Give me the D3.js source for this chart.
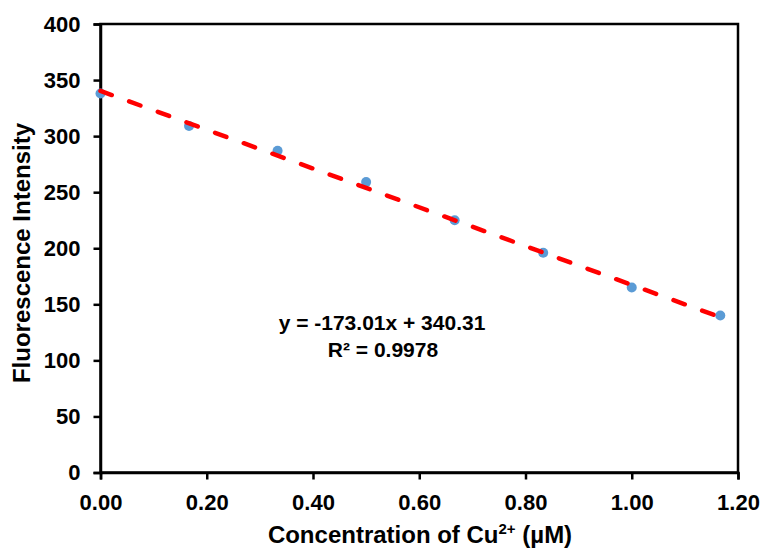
<!DOCTYPE html>
<html>
<head>
<meta charset="utf-8">
<script src="https://cdn.jsdelivr.net/npm/d3@7/dist/d3.min.js"></script>
<style>
  html, body { margin: 0; padding: 0; background: #fff; }
  svg { display: block; font-family: "Liberation Sans", Arial, sans-serif; font-weight: bold; }
</style>
</head>
<body>
<svg id="chart" width="763" height="548"></svg>
<script>
// Cu2+ concentration (µM) and measured fluorescence intensity
const concentration = [0, 1/6, 2/6, 3/6, 4/6, 5/6, 1, 7/6];
const intensity = [338, 309, 287, 259, 225, 196, 165, 140];

// Linear fit reported on the chart
const fitSlope = -173.01;
const fitIntercept = 340.31;
const fitR2 = 0.9978;

const xTicks = [0, 0.2, 0.4, 0.6, 0.8, 1.0, 1.2];
const yTicks = [0, 50, 100, 150, 200, 250, 300, 350, 400];

const svg = d3.select("#chart");
const plot = { left: 100.5, right: 738, top: 24, bottom: 472.5 };

const x = d3.scaleLinear().domain([0, 1.2]).range([plot.left, plot.right]);
const y = d3.scaleLinear().domain([0, 400]).range([plot.bottom, plot.top]);

// Plot frame
svg.append("rect")
  .attr("x", plot.left).attr("y", plot.top)
  .attr("width", plot.right - plot.left).attr("height", plot.bottom - plot.top)
  .attr("fill", "none").attr("stroke", "#000").attr("stroke-width", 2.5);

// Axes
const xAxis = svg.append("g")
  .attr("transform", `translate(0,${plot.bottom})`)
  .call(d3.axisBottom(x).tickValues(xTicks).tickSize(7).tickPadding(15)
        .tickFormat(d3.format(".2f")));
const yAxis = svg.append("g")
  .attr("transform", `translate(${plot.left},0)`)
  .call(d3.axisLeft(y).tickValues(yTicks).tickSize(7).tickPadding(13));

[xAxis, yAxis].forEach(g => {
  g.select(".domain").attr("stroke", "#000").attr("stroke-width", 2.5);
  g.selectAll(".tick line").attr("stroke", "#000").attr("stroke-width", 2.5);
  g.selectAll(".tick text")
    .attr("fill", "#000")
    .style("font-family", "'Liberation Sans', Arial, sans-serif")
    .style("font-weight", "bold")
    .style("font-size", "22px");
});

// Data points
svg.append("g").selectAll("circle")
  .data(concentration)
  .join("circle")
  .attr("cx", d => x(d))
  .attr("cy", (d, i) => y(intensity[i]))
  .attr("r", 5)
  .attr("fill", "#5B9BD5");

// Dashed trend line across the data range
const xMin = d3.min(concentration), xMax = d3.max(concentration);
svg.append("line")
  .attr("x1", x(xMin)).attr("y1", y(fitSlope * xMin + fitIntercept))
  .attr("x2", x(xMax)).attr("y2", y(fitSlope * xMax + fitIntercept))
  .attr("stroke", "#FF0000")
  .attr("stroke-width", 4.5)
  .attr("stroke-linecap", "round")
  .attr("stroke-dasharray", "12 18.5");

// Fit equation
const eq = svg.append("text")
  .attr("text-anchor", "middle")
  .style("font-size", "21px")
  .attr("fill", "#000");
eq.append("tspan").attr("x", 382).attr("y", 330)
  .text(`y = ${fitSlope}x + ${fitIntercept}`);
eq.append("tspan").attr("x", 383).attr("y", 357)
  .text(`R² = ${fitR2}`);

// Axis titles
const xt = svg.append("text")
  .attr("x", 420).attr("y", 543)
  .attr("text-anchor", "middle")
  .style("font-size", "24px")
  .attr("fill", "#000");
xt.append("tspan").text("Concentration of Cu");
xt.append("tspan").attr("dy", -9).style("font-size", "15px").text("2+");
xt.append("tspan").attr("dy", 9).text(" (µM)");

svg.append("text")
  .attr("transform", "translate(30,253) rotate(-90)")
  .attr("text-anchor", "middle")
  .style("font-size", "24px")
  .attr("fill", "#000")
  .text("Fluorescence Intensity");
</script>
</body>
</html>
